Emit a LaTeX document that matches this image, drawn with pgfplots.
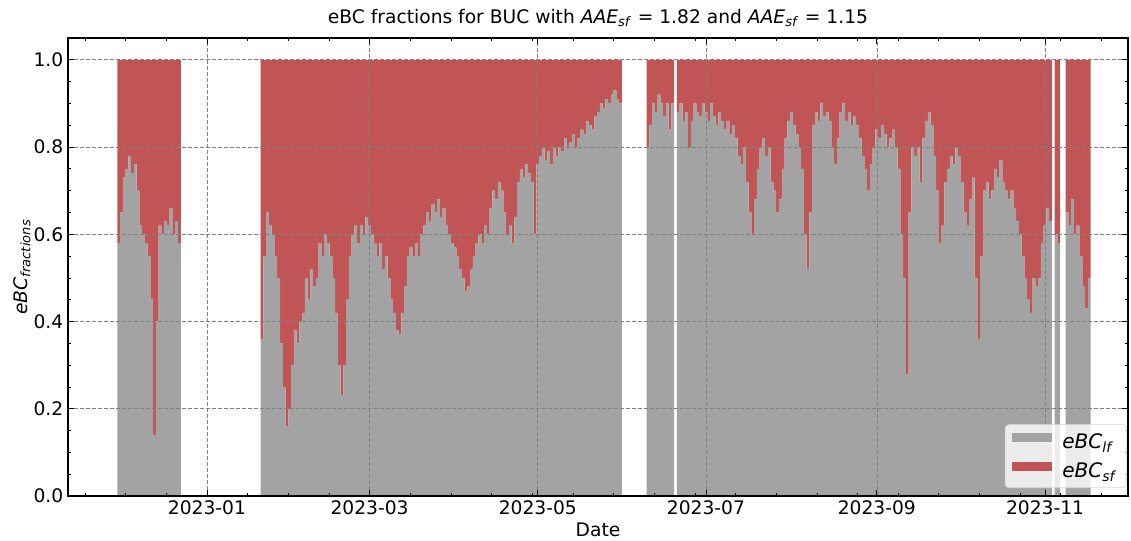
\documentclass[border=0pt]{standalone}
\usepackage{fontspec}
\setmainfont{DejaVu Sans}
\usepackage{pgfplots}
\usepackage{pgfplotstable}
\pgfplotsset{compat=1.18}
\definecolor{cgray}{RGB}{163,163,163}
\definecolor{cred}{RGB}{193,84,84}
\pgfplotstableread{
day lf sf
-32 0.58 0.42
-31 0.65 0.35
-30 0.73 0.27
-29 0.75 0.25
-28 0.78 0.22
-27 0.74 0.26
-26 0.76 0.24
-25 0.70 0.30
-24 0.62 0.38
-23 0.60 0.40
-22 0.58 0.42
-21 0.55 0.45
-20 0.45 0.55
-19 0.14 0.86
-18 0.40 0.60
-17 0.62 0.38
-16 0.60 0.40
-15 0.63 0.37
-14 0.62 0.38
-13 0.66 0.34
-12 0.60 0.40
-11 0.63 0.37
-10 0.58 0.42
20 0.36 0.64
21 0.55 0.45
22 0.65 0.35
23 0.62 0.38
24 0.60 0.40
25 0.55 0.45
26 0.50 0.50
27 0.35 0.65
28 0.25 0.75
29 0.16 0.84
30 0.20 0.80
31 0.30 0.70
32 0.38 0.62
33 0.35 0.65
34 0.40 0.60
35 0.42 0.58
36 0.50 0.50
37 0.45 0.55
38 0.52 0.48
39 0.48 0.52
40 0.50 0.50
41 0.58 0.42
42 0.55 0.45
43 0.60 0.40
44 0.58 0.42
45 0.55 0.45
46 0.50 0.50
47 0.42 0.58
48 0.30 0.70
49 0.23 0.77
50 0.30 0.70
51 0.45 0.55
52 0.55 0.45
53 0.60 0.40
54 0.62 0.38
55 0.58 0.42
56 0.62 0.38
57 0.60 0.40
58 0.64 0.36
59 0.62 0.38
60 0.60 0.40
61 0.58 0.42
62 0.55 0.45
63 0.58 0.42
64 0.52 0.48
65 0.55 0.45
66 0.50 0.50
67 0.45 0.55
68 0.42 0.58
69 0.38 0.62
70 0.37 0.63
71 0.42 0.58
72 0.48 0.52
73 0.55 0.45
74 0.57 0.43
75 0.55 0.45
76 0.58 0.42
77 0.55 0.45
78 0.60 0.40
79 0.62 0.38
80 0.65 0.35
81 0.63 0.37
82 0.67 0.33
83 0.65 0.35
84 0.68 0.32
85 0.64 0.36
86 0.66 0.34
87 0.62 0.38
88 0.60 0.40
89 0.58 0.42
90 0.57 0.43
91 0.55 0.45
92 0.52 0.48
93 0.50 0.50
94 0.47 0.53
95 0.48 0.52
96 0.52 0.48
97 0.55 0.45
98 0.58 0.42
99 0.60 0.40
100 0.58 0.42
101 0.62 0.38
102 0.60 0.40
103 0.66 0.34
104 0.70 0.30
105 0.68 0.32
106 0.72 0.28
107 0.70 0.30
108 0.65 0.35
109 0.60 0.40
110 0.62 0.38
111 0.58 0.42
112 0.64 0.36
113 0.72 0.28
114 0.75 0.25
115 0.73 0.27
116 0.76 0.24
117 0.74 0.26
118 0.72 0.28
119 0.60 0.40
120 0.76 0.24
121 0.78 0.22
122 0.80 0.20
123 0.77 0.23
124 0.79 0.21
125 0.76 0.24
126 0.80 0.20
127 0.78 0.22
128 0.80 0.20
129 0.79 0.21
130 0.82 0.18
131 0.80 0.20
132 0.81 0.19
133 0.83 0.17
134 0.80 0.20
135 0.82 0.18
136 0.84 0.16
137 0.83 0.17
138 0.86 0.14
139 0.85 0.15
140 0.84 0.16
141 0.87 0.13
142 0.88 0.12
143 0.90 0.10
144 0.89 0.11
145 0.91 0.09
146 0.90 0.10
147 0.92 0.08
148 0.93 0.07
149 0.91 0.09
150 0.90 0.10
160 0.80 0.20
161 0.85 0.15
162 0.90 0.10
163 0.88 0.12
164 0.92 0.08
165 0.90 0.10
166 0.87 0.13
167 0.90 0.10
168 0.84 0.16
169 0.90 0.10
171 0.88 0.12
172 0.90 0.10
173 0.86 0.14
174 0.88 0.12
175 0.80 0.20
176 0.86 0.14
177 0.90 0.10
178 0.88 0.12
179 0.87 0.13
180 0.90 0.10
181 0.88 0.12
182 0.86 0.14
183 0.90 0.10
184 0.87 0.13
185 0.85 0.15
186 0.88 0.12
187 0.86 0.14
188 0.84 0.16
189 0.86 0.14
190 0.83 0.17
191 0.85 0.15
192 0.82 0.18
193 0.78 0.22
194 0.76 0.24
195 0.80 0.20
196 0.72 0.28
197 0.65 0.35
198 0.60 0.40
199 0.68 0.32
200 0.75 0.25
201 0.80 0.20
202 0.82 0.18
203 0.78 0.22
204 0.80 0.20
205 0.72 0.28
206 0.70 0.30
207 0.65 0.35
208 0.68 0.32
209 0.75 0.25
210 0.82 0.18
211 0.86 0.14
212 0.88 0.12
213 0.85 0.15
214 0.83 0.17
215 0.80 0.20
216 0.75 0.25
217 0.60 0.40
218 0.52 0.48
219 0.65 0.35
220 0.85 0.15
221 0.88 0.12
222 0.86 0.14
223 0.90 0.10
224 0.87 0.13
225 0.88 0.12
226 0.86 0.14
227 0.80 0.20
228 0.76 0.24
229 0.82 0.18
230 0.88 0.12
231 0.90 0.10
232 0.86 0.14
233 0.88 0.12
234 0.85 0.15
235 0.87 0.13
236 0.85 0.15
237 0.82 0.18
238 0.78 0.22
239 0.75 0.25
240 0.70 0.30
241 0.76 0.24
242 0.80 0.20
243 0.84 0.16
244 0.82 0.18
245 0.85 0.15
246 0.83 0.17
247 0.80 0.20
248 0.82 0.18
249 0.84 0.16
250 0.80 0.20
251 0.75 0.25
252 0.60 0.40
253 0.50 0.50
254 0.28 0.72
255 0.65 0.35
256 0.80 0.20
257 0.78 0.22
258 0.80 0.20
259 0.72 0.28
260 0.82 0.18
261 0.86 0.14
262 0.88 0.12
263 0.85 0.15
264 0.78 0.22
265 0.70 0.30
266 0.58 0.42
267 0.62 0.38
268 0.72 0.28
269 0.75 0.25
270 0.78 0.22
271 0.76 0.24
272 0.80 0.20
273 0.78 0.22
274 0.72 0.28
275 0.65 0.35
276 0.62 0.38
277 0.68 0.32
278 0.73 0.27
279 0.50 0.50
280 0.36 0.64
281 0.55 0.45
282 0.70 0.30
283 0.72 0.28
284 0.68 0.32
285 0.70 0.30
286 0.75 0.25
287 0.73 0.27
288 0.77 0.23
289 0.72 0.28
290 0.70 0.30
291 0.68 0.32
292 0.70 0.30
293 0.66 0.34
294 0.63 0.37
295 0.60 0.40
296 0.55 0.45
297 0.50 0.50
298 0.45 0.55
299 0.42 0.58
300 0.50 0.50
301 0.48 0.52
302 0.50 0.50
303 0.58 0.42
304 0.62 0.38
305 0.66 0.34
306 0.63 0.37
308 0.60 0.40
309 0.58 0.42
312 0.65 0.35
313 0.62 0.38
314 0.68 0.32
315 0.60 0.40
316 0.62 0.38
317 0.55 0.45
318 0.48 0.52
319 0.43 0.57
320 0.50 0.50
}\datatab
\begin{document}
\begin{tikzpicture}
\begin{axis}[
  scale only axis, width=795pt, height=343.5pt,
  xmin=-50.4, xmax=334.1, ymin=0, ymax=1.05,
  ybar stacked, bar width=1,
  axis on top,
  xtick={0,59,120,181,243,304},
  xticklabels={2023-01,2023-03,2023-05,2023-07,2023-09,2023-11},
  minor xtick={-44.25,-29.5,-14.75,14.75,29.5,44.25,73.75,88.5,103.25,118,132.75,147.5,162.25,177,191.75,206.5,221.25,236,250.75,265.5,280.25,295,309.75,324.5},
  ytick={0,0.2,0.4,0.6,0.8,1.0},
  yticklabels={0.0,0.2,0.4,0.6,0.8,1.0},
  minor ytick={0.05,0.1,0.15,0.25,0.3,0.35,0.45,0.5,0.55,0.65,0.7,0.75,0.85,0.9,0.95},
  tick align=inside, xtick pos=both, ytick pos=both,
  major tick length=4.5pt, minor tick length=2.5pt,
  tick style={black, line width=0.6pt},
  grid=major,
  major grid style={black!50, line width=0.5pt, dash pattern=on 3pt off 1.5pt},
  axis line style={line width=0.8pt},
  tick label style={font=\fontsize{14}{16}\selectfont},
  /pgf/number format/assume math mode=true,
  title={eBC fractions for BUC with \textit{AAE}\textsubscript{\textit{sf}} = 1.82 and \textit{AAE}\textsubscript{\textit{sf}} = 1.15},
  title style={font=\fontsize{14}{16}\selectfont, yshift=-1pt},
  xlabel={Date},
  xlabel style={font=\fontsize{14}{16}\selectfont, at={(axis description cs:0.5,0)}, anchor=center, yshift=-25pt},
  ylabel={\textit{eBC}\textsubscript{\textit{fractions}}},
  ylabel style={font=\fontsize{14}{16}\selectfont, at={(axis description cs:0,0.5)}, anchor=center, yshift=34.5pt},
  legend style={at={(1,0)}, anchor=south east, xshift=-1pt, yshift=6pt,
    draw=black!15, fill=white, fill opacity=0.8, text opacity=1,
    rounded corners=3pt, font=\fontsize{15}{18}\selectfont,
    inner xsep=5pt, inner ysep=4.5pt, row sep=5pt,
    /tikz/every odd column/.append style={column sep=6pt}},
  legend cell align=left,
]
\addplot[fill=cgray, draw=none,
  legend image code/.code={\fill[cgray, fill opacity=1, sharp corners] (0pt,-0.05em) rectangle (30pt,0.68em);}]
  table[x=day, y=lf]{\datatab};
\addlegendentry{\textit{eBC}\textsubscript{\textit{lf}}}
\addplot[fill=cred, draw=none,
  legend image code/.code={\fill[cred, fill opacity=1, sharp corners] (0pt,-0.05em) rectangle (30pt,0.68em);}]
  table[x=day, y=sf]{\datatab};
\addlegendentry{\textit{eBC}\textsubscript{\textit{sf}}}
\coordinate (sw) at (rel axis cs:0,0);
\coordinate (ne) at (rel axis cs:1,1);
\end{axis}
\pgfresetboundingbox
\path[use as bounding box] ([xshift=-51pt,yshift=-33pt]sw) rectangle ([xshift=2.25pt,yshift=28.5pt]ne);
\end{tikzpicture}
\end{document}
